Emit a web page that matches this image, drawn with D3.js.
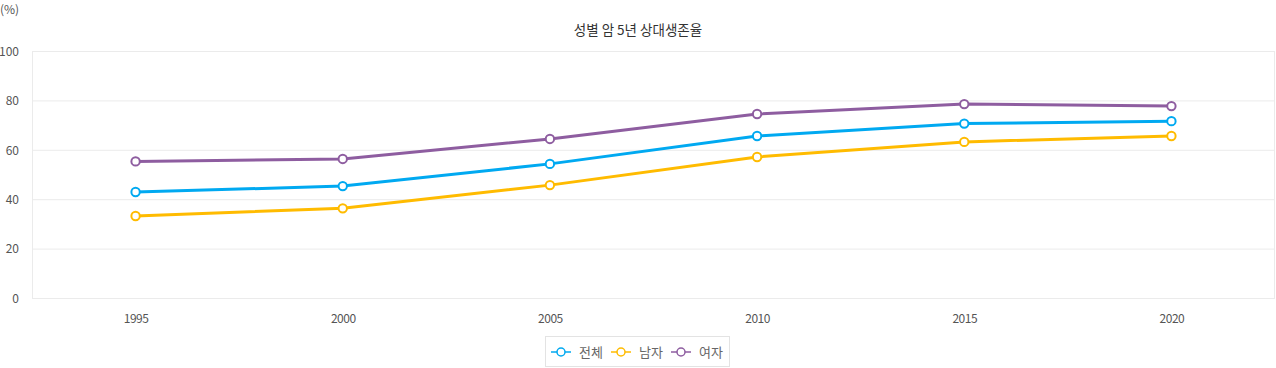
<!DOCTYPE html>
<html><head><meta charset="utf-8">
<script src="https://cdn.jsdelivr.net/npm/d3@7"></script>
<style>body{margin:0;background:#fff;}svg{display:block;font-family:"Noto Sans CJK KR","Noto Sans",sans-serif;}</style>
</head><body><svg id="c" width="1276" height="368"></svg>
<script>
const years = ["1995","2000","2005","2010","2015","2020"];
const seriesNames = ["전체","남자","여자"];
const totalVals = [42.9, 45.3, 54.3, 65.6, 70.6, 71.6];
const maleVals = [33.2, 36.3, 45.7, 57.1, 63.2, 65.6];
const femaleVals = [55.3, 56.3, 64.4, 74.5, 78.5, 77.7];
const yTicks = [0,20,40,60,80,100];
const colors = ["#00a9f1","#ffbb00","#8e5da0"];
const seriesVals = [totalVals, maleVals, femaleVals];

const svg = d3.select("#c");
const L=32, R=1275, T=51, B=298;
const x = d3.scalePoint().domain(years).range([L,R]).padding(0.5);
const y = d3.scaleLinear().domain([0,100]).range([B,T]);

// grid
svg.append("g").selectAll("line").data(yTicks).join("line")
  .attr("x1",L).attr("x2",R).attr("y1",d=>y(d)+0.5).attr("y2",d=>y(d)+0.5)
  .attr("stroke","#ebebeb").attr("stroke-width",1);
svg.append("line").attr("x1",L+0.5).attr("x2",L+0.5).attr("y1",T).attr("y2",B).attr("stroke","#ebebeb");
svg.append("line").attr("x1",R-0.5).attr("x2",R-0.5).attr("y1",T).attr("y2",B).attr("stroke","#ebebeb");

// y axis labels
const ya = svg.append("g").attr("transform",`translate(${L-13},0)`).call(d3.axisLeft(y).tickValues(yTicks).tickSize(0).tickPadding(0));
ya.select(".domain").remove();
ya.selectAll("text").attr("fill","#555").attr("font-size",12).attr("font-family","'Noto Sans CJK KR',sans-serif").attr("dy","0.35em");

// x axis labels
const xa = svg.append("g").attr("transform",`translate(0,${B+16})`).call(d3.axisBottom(x).tickSize(0).tickPadding(0));
xa.select(".domain").remove();
xa.selectAll("text").attr("fill","#555").attr("font-size",12).attr("font-family","'Noto Sans CJK KR',sans-serif").attr("dy","0.71em").attr("letter-spacing","-0.5px");

// unit
svg.append("text").attr("x",0).attr("y",14).text("(%)").attr("fill","#555").attr("font-size",12);
// title
svg.append("text").attr("x",638).attr("y",35).attr("text-anchor","middle").text("성별 암 5년 상대생존율").attr("fill","#333").attr("font-size",13.5);

const line = d3.line().x((d,i)=>x(years[i])).y(d=>y(d));
seriesVals.forEach((vals,si)=>{
  svg.append("path").datum(vals).attr("d",line).attr("fill","none").attr("stroke",colors[si]).attr("stroke-width",3);
});
seriesVals.forEach((vals,si)=>{
  svg.append("g").selectAll("circle").data(vals).join("circle")
    .attr("cx",(d,i)=>x(years[i])).attr("cy",d=>y(d)).attr("r",4.2)
    .attr("fill","#fff").attr("stroke",colors[si]).attr("stroke-width",2);
});

// legend
const lg = svg.append("g");
lg.append("rect").attr("x",545.5).attr("y",336.5).attr("width",184).attr("height",30).attr("fill","#fff").attr("stroke","#e3e3e3");
const lx = [551, 611, 671];
seriesNames.forEach((n,i)=>{
  const g = lg.append("g").attr("transform",`translate(${lx[i]},352)`);
  g.append("line").attr("x1",0).attr("x2",20).attr("y1",0).attr("y2",0).attr("stroke",colors[i]).attr("stroke-width",1.5);
  g.append("circle").attr("cx",10).attr("cy",0).attr("r",4).attr("fill","#fff").attr("stroke",colors[i]).attr("stroke-width",1.5);
  g.append("text").attr("x",28).attr("y",0).attr("dy","0.35em").text(n).attr("fill","#666").attr("font-size",13);
});
</script></body></html>
